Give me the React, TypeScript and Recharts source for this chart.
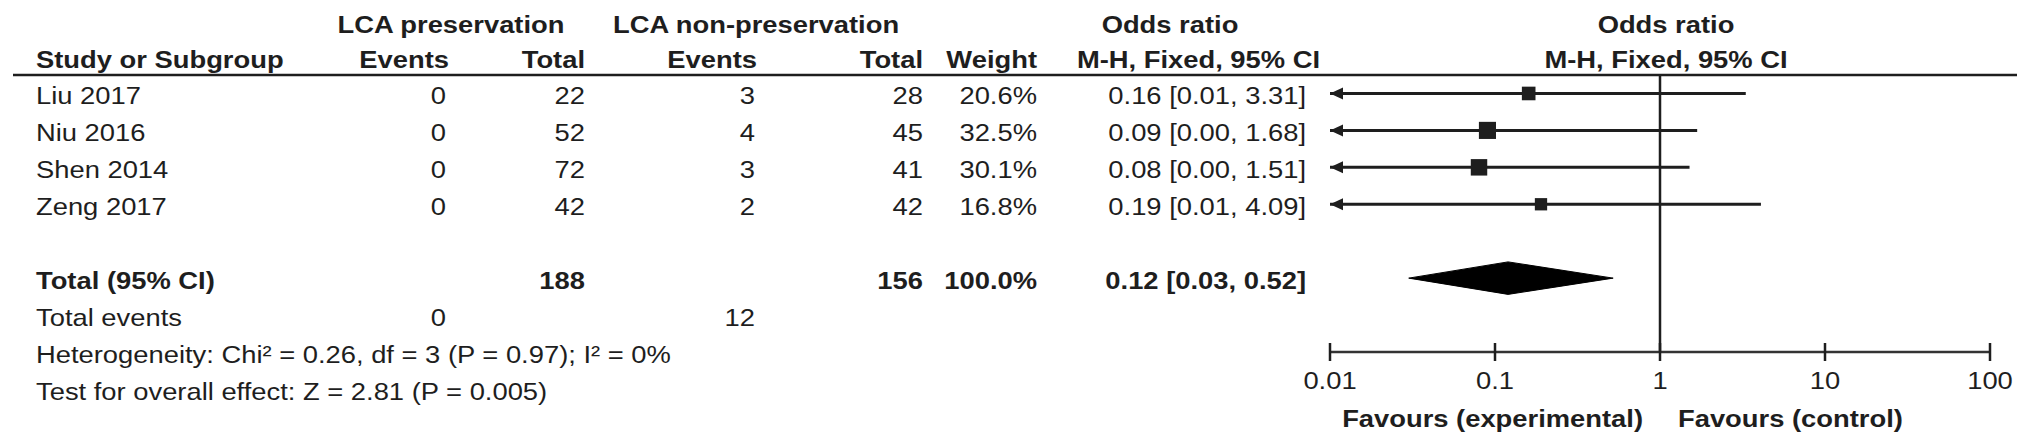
import React from "react";
import {
  ComposedChart,
  Scatter,
  Area,
  ErrorBar,
  XAxis,
  YAxis,
  ReferenceLine,
} from "recharts";

// forest plot: LCA preservation vs non-preservation
const studies = ["Liu 2017", "Niu 2016", "Shen 2014", "Zeng 2017"];
const expEvents = [0, 0, 0, 0];
const expTotal = [22, 52, 72, 42];
const ctrlEvents = [3, 4, 3, 2];
const ctrlTotal = [28, 45, 41, 42];
const weights = [20.6, 32.5, 30.1, 16.8];
const orEst = [0.16, 0.09, 0.08, 0.19];
const orLow = [0.01, 0.0, 0.0, 0.01];
const orHigh = [3.31, 1.68, 1.51, 4.09];

const pooledEst = 0.12;
const pooledLow = 0.03;
const pooledHigh = 0.52;
const totalExp = 188;
const totalCtrl = 156;
const totalExpEvents = 0;
const totalCtrlEvents = 12;

const axisTicks = [0.01, 0.1, 1, 10, 100];

const W = 2031;
const H = 445;
const TOP = 75;
const LEFT = 1330;
const RIGHT = 41;
const AXIS_Y = 352;
const ROW_MIN = 0.5;
const ROW_MAX = 8;
const X_MIN = axisTicks[0];
const INK = "#1e1e1e";
const FONT = "'Liberation Sans', Arial, sans-serif";
const SX = 1.14;
const FS = 24;

const rowPx = (k: number) => TOP + ((k - ROW_MIN) * (AXIS_Y - TOP)) / (ROW_MAX - ROW_MIN);

const studyPoints = studies.map((s, i) => ({
  name: s,
  x: orEst[i],
  y: i + 1,
  w: weights[i],
  err: [orEst[i] - Math.max(orLow[i], X_MIN), orHigh[i] - orEst[i]],
}));

const arrowPoints = studies
  .map((s, i) => ({ x: X_MIN, y: i + 1, lo: orLow[i] }))
  .filter((d) => d.lo <= X_MIN);

const TOTAL_ROW = 6;
const DIAMOND_HALF = 0.44;
const diamond = [
  { x: pooledLow, band: [TOTAL_ROW, TOTAL_ROW] },
  { x: pooledEst, band: [TOTAL_ROW - DIAMOND_HALF, TOTAL_ROW + DIAMOND_HALF] },
  { x: pooledHigh, band: [TOTAL_ROW, TOTAL_ROW] },
];

function T({
  x,
  y,
  children,
  anchor = "start",
  bold = false,
}: {
  x: number;
  y: number;
  children: React.ReactNode;
  anchor?: "start" | "middle" | "end";
  bold?: boolean;
}) {
  return (
    <text
      transform={`translate(${x},${y}) scale(${SX},1)`}
      textAnchor={anchor}
      fontWeight={bold ? 700 : 400}
      fontSize={FS}
      fontFamily={FONT}
      fill={INK}
    >
      {children}
    </text>
  );
}

const Square = (props: any) => {
  const { cx, cy, payload } = props;
  const s = 3 * Math.sqrt(payload.w);
  return <rect x={cx - s / 2} y={cy - s / 2} width={s} height={s} fill={INK} />;
};

const Arrow = (props: any) => {
  const { cx, cy } = props;
  return <polygon points={`${cx},${cy} ${cx + 13},${cy - 6} ${cx + 13},${cy + 6}`} fill={INK} />;
};

const fmtTick = (v: number) => (v < 1 ? String(v) : String(Math.round(v)));

const AxisTick = (props: any) => {
  const { x, y, payload } = props;
  return (
    <g>
      <line x1={x} x2={x} y1={y - 9} y2={y + 9} stroke={INK} strokeWidth={2.5} />
      <T x={x} y={y + 37} anchor="middle">
        {fmtTick(payload.value)}
      </T>
    </g>
  );
};

const COL = {
  study: 36,
  ev1: 446,
  tot1: 585,
  ev2: 755,
  tot2: 923,
  weight: 1037,
  or: 1306,
};

export default function App() {
  const base = (k: number) => rowPx(k) + 11;
  return (
    <div style={{ position: "relative", width: W, height: H, background: "#fff" }}>
      <style>{`body{margin:0}`}</style>
      <ComposedChart
        width={W}
        height={H}
        data={diamond}
        margin={{ top: TOP, left: LEFT, right: RIGHT, bottom: H - AXIS_Y - 60 }}
      >
        <XAxis
          dataKey="x"
          type="number"
          scale="log"
          domain={[axisTicks[0], axisTicks[axisTicks.length - 1]]}
          ticks={axisTicks}
          allowDataOverflow
          interval={0}
          height={60}
          tickSize={0}
          tickMargin={0}
          tickLine={false}
          axisLine={{ stroke: "#333", strokeWidth: 2.5 }}
          tick={<AxisTick />}
        />
        <YAxis dataKey="y" type="number" hide reversed domain={[ROW_MIN, ROW_MAX]} allowDataOverflow />
        <ReferenceLine x={1} stroke={INK} strokeWidth={2.5} />
        <Area
          dataKey="band"
          type="linear"
          stroke="#000"
          strokeWidth={1}
          fill="#000"
          fillOpacity={1}
          isAnimationActive={false}
          dot={false}
          activeDot={false}
        />
        <Scatter data={studyPoints} shape={<Square />} isAnimationActive={false}>
          <ErrorBar dataKey="err" direction="x" width={0} stroke={INK} strokeWidth={3} />
        </Scatter>
        <Scatter data={arrowPoints} shape={<Arrow />} isAnimationActive={false} />
      </ComposedChart>

      <svg
        width={W}
        height={H}
        style={{ position: "absolute", left: 0, top: 0, pointerEvents: "none" }}
      >
        <line x1={13} x2={2017} y1={TOP} y2={TOP} stroke={INK} strokeWidth={2.5} />

        <T x={451} y={33} anchor="middle" bold>LCA preservation</T>
        <T x={613} y={33} bold>LCA non-preservation</T>
        <T x={1170} y={33} anchor="middle" bold>Odds ratio</T>
        <T x={1666} y={33} anchor="middle" bold>Odds ratio</T>

        <T x={COL.study} y={68} bold>Study or Subgroup</T>
        <T x={COL.ev1 + 3} y={68} anchor="end" bold>Events</T>
        <T x={COL.tot1} y={68} anchor="end" bold>Total</T>
        <T x={COL.ev2 + 2} y={68} anchor="end" bold>Events</T>
        <T x={COL.tot2} y={68} anchor="end" bold>Total</T>
        <T x={COL.weight} y={68} anchor="end" bold>Weight</T>
        <T x={1320} y={68} anchor="end" bold>M-H, Fixed, 95% CI</T>
        <T x={1666} y={68} anchor="middle" bold>M-H, Fixed, 95% CI</T>

        {studies.map((s, i) => (
          <g key={s}>
            <T x={COL.study} y={base(i + 1)}>{s}</T>
            <T x={COL.ev1} y={base(i + 1)} anchor="end">{expEvents[i]}</T>
            <T x={COL.tot1} y={base(i + 1)} anchor="end">{expTotal[i]}</T>
            <T x={COL.ev2} y={base(i + 1)} anchor="end">{ctrlEvents[i]}</T>
            <T x={COL.tot2} y={base(i + 1)} anchor="end">{ctrlTotal[i]}</T>
            <T x={COL.weight} y={base(i + 1)} anchor="end">{weights[i].toFixed(1)}%</T>
            <T x={COL.or} y={base(i + 1)} anchor="end">
              {`${orEst[i].toFixed(2)} [${orLow[i].toFixed(2)}, ${orHigh[i].toFixed(2)}]`}
            </T>
          </g>
        ))}

        <T x={COL.study} y={base(6)} bold>Total (95% CI)</T>
        <T x={COL.tot1} y={base(6)} anchor="end" bold>{totalExp}</T>
        <T x={COL.tot2} y={base(6)} anchor="end" bold>{totalCtrl}</T>
        <T x={COL.weight} y={base(6)} anchor="end" bold>100.0%</T>
        <T x={COL.or} y={base(6)} anchor="end" bold>
          {`${pooledEst.toFixed(2)} [${pooledLow.toFixed(2)}, ${pooledHigh.toFixed(2)}]`}
        </T>

        <T x={COL.study} y={base(7)}>Total events</T>
        <T x={COL.ev1} y={base(7)} anchor="end">{totalExpEvents}</T>
        <T x={COL.ev2} y={base(7)} anchor="end">{totalCtrlEvents}</T>

        <T x={COL.study} y={base(8)}>Heterogeneity: Chi² = 0.26, df = 3 (P = 0.97); I² = 0%</T>
        <T x={COL.study} y={base(9)}>Test for overall effect: Z = 2.81 (P = 0.005)</T>

        <T x={1643} y={427} anchor="end" bold>Favours (experimental)</T>
        <T x={1678} y={427} bold>Favours (control)</T>
      </svg>
    </div>
  );
}
